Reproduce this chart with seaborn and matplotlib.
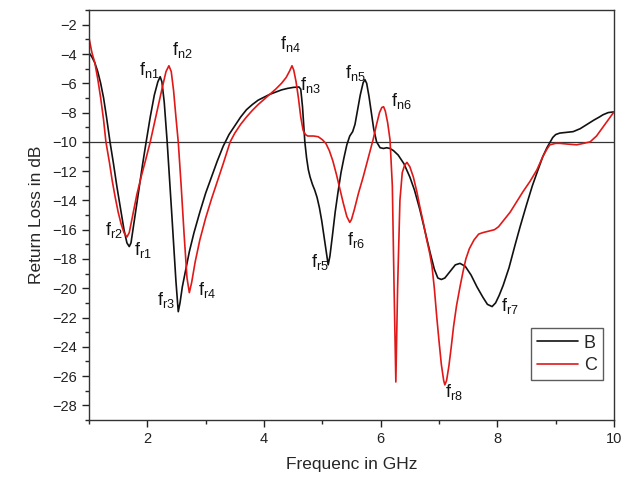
import numpy as np
import pandas as pd
import matplotlib
matplotlib.use("Agg")
import matplotlib.pyplot as plt
import seaborn as sns
from matplotlib.ticker import MultipleLocator

# curve B (black)
freq_b = [1.00, 1.05, 1.10, 1.15, 1.20, 1.25, 1.30, 1.36, 1.42, 1.48, 1.55, 1.60,
          1.65, 1.69, 1.72, 1.78, 1.85, 1.92, 1.98, 2.05, 2.12, 2.18, 2.22, 2.25,
          2.29, 2.34, 2.42, 2.49, 2.53, 2.56, 2.60, 2.65, 2.72, 2.80, 2.90, 3.00,
          3.10, 3.20, 3.30, 3.40, 3.50, 3.60, 3.70, 3.80, 3.90, 4.00, 4.10, 4.20,
          4.30, 4.40, 4.50, 4.60, 4.63, 4.66, 4.70, 4.73, 4.76, 4.79, 4.83, 4.87,
          4.91, 4.95, 4.99, 5.03, 5.07, 5.10, 5.13, 5.17, 5.22, 5.27, 5.32, 5.37,
          5.42, 5.47, 5.52, 5.56, 5.60, 5.65, 5.70, 5.73, 5.76, 5.80, 5.84, 5.88,
          5.93, 5.99, 6.05, 6.10, 6.16, 6.22, 6.30, 6.40, 6.50, 6.58, 6.67, 6.76,
          6.85, 6.92, 6.98, 7.04, 7.10, 7.20, 7.28, 7.36, 7.45, 7.55, 7.65, 7.75,
          7.83, 7.91, 7.97, 8.03, 8.10, 8.20, 8.30, 8.39, 8.50, 8.60, 8.68, 8.78,
          8.85, 8.90, 8.95, 9.00, 9.07, 9.18, 9.30, 9.42, 9.54, 9.66, 9.75, 9.81,
          9.90, 10.00]
rl_b = [-3.9, -4.2, -4.6, -5.2, -6.0, -7.0, -8.3, -10.0, -11.5, -13.1, -14.8, -16.0,
        -16.9, -17.15, -16.9, -15.3, -13.4, -11.5, -10.0, -8.3, -6.8, -5.9, -5.55, -5.9,
        -7.3, -10.0, -15.0, -19.5, -21.6, -21.0, -19.9, -18.9, -17.5, -16.2, -14.8, -13.5,
        -12.4, -11.3, -10.3, -9.5, -8.9, -8.3, -7.8, -7.45, -7.15, -6.95, -6.75, -6.6,
        -6.45, -6.35, -6.28, -6.25, -6.4, -7.6, -10.0, -11.1, -11.9, -12.4, -12.9, -13.3,
        -13.8, -14.5, -15.4, -16.5, -17.6, -18.4, -17.8, -16.5, -14.8, -13.4, -12.1, -11.1,
        -10.2, -9.6, -9.3, -8.8, -7.9, -6.8, -5.95, -5.75, -6.0, -6.9, -8.0, -9.1,
        -10.0, -10.4, -10.45, -10.4, -10.45, -10.6, -10.9, -11.5, -12.4, -13.3, -14.6, -16.1,
        -17.6, -18.7, -19.3, -19.4, -19.3, -18.8, -18.4, -18.3, -18.5, -19.1, -19.9, -20.6,
        -21.1, -21.25, -21.0, -20.5, -19.8, -18.6, -17.1, -15.8, -14.3, -13.0, -12.1, -11.0,
        -10.4, -10.05, -9.7, -9.5, -9.4, -9.35, -9.3, -9.1, -8.8, -8.5, -8.3, -8.15,
        -8.0, -7.95]

# curve C (red)
freq_c = [1.00, 1.05, 1.10, 1.15, 1.20, 1.25, 1.29, 1.35, 1.40, 1.45, 1.50, 1.55,
          1.60, 1.65, 1.69, 1.75, 1.82, 1.90, 1.98, 2.05, 2.15, 2.25, 2.32, 2.37,
          2.41, 2.45, 2.49, 2.53, 2.58, 2.63, 2.68, 2.72, 2.76, 2.82, 2.90, 3.00,
          3.10, 3.20, 3.30, 3.42, 3.50, 3.60, 3.70, 3.80, 3.90, 4.00, 4.10, 4.20,
          4.30, 4.38, 4.44, 4.48, 4.51, 4.55, 4.59, 4.63, 4.67, 4.71, 4.75, 4.85,
          4.93, 5.00, 5.06, 5.12, 5.18, 5.24, 5.30, 5.36, 5.42, 5.47, 5.50, 5.55,
          5.62, 5.70, 5.78, 5.87, 5.93, 5.98, 6.02, 6.05, 6.08, 6.12, 6.16, 6.20,
          6.23, 6.26, 6.29, 6.33, 6.37, 6.41, 6.45, 6.50, 6.56, 6.62, 6.67, 6.73,
          6.79, 6.84, 6.88, 6.92, 6.96, 7.00, 7.04, 7.08, 7.10, 7.13, 7.17, 7.21,
          7.25, 7.30, 7.36, 7.41, 7.46, 7.52, 7.60, 7.68, 7.75, 7.85, 7.95, 8.02,
          8.10, 8.22, 8.33, 8.44, 8.56, 8.68, 8.78, 8.85, 8.90, 9.00, 9.07, 9.20,
          9.36, 9.48, 9.59, 9.70, 9.81, 9.90, 10.00]
rl_c = [-2.9, -3.9, -4.6, -5.7, -7.0, -8.5, -10.0, -11.4, -12.7, -13.8, -14.8, -15.6,
        -16.2, -16.5, -16.2, -15.0, -13.6, -12.3, -11.1, -10.0, -8.2, -6.4, -5.2, -4.8,
        -5.2, -6.5, -8.3, -10.0, -13.0, -16.3, -19.3, -20.3, -19.6, -18.2, -16.7, -15.2,
        -13.9, -12.7, -11.5, -10.0, -9.4, -8.8, -8.3, -7.85, -7.45, -7.1, -6.75, -6.4,
        -6.0, -5.6, -5.15, -4.8, -5.1, -5.9, -7.0, -8.3, -9.2, -9.5, -9.6, -9.6,
        -9.65, -9.85, -10.1, -10.6, -11.3, -12.2, -13.2, -14.2, -15.1, -15.5, -15.3, -14.6,
        -13.5, -12.4, -11.2, -9.85, -8.8, -8.0, -7.65, -7.6, -7.9, -8.7, -9.85, -13.0,
        -20.0, -26.4, -20.0, -14.0, -12.1, -11.6, -11.4, -11.7, -12.4, -13.4, -14.4, -15.5,
        -16.7, -17.6, -18.5, -20.0, -21.9, -23.6, -25.2, -26.3, -26.6, -26.3, -25.3, -24.0,
        -22.6, -21.2, -19.9, -18.9, -18.0, -17.3, -16.7, -16.3, -16.2, -16.1, -16.0, -15.8,
        -15.4, -14.8, -14.1, -13.4, -12.7, -11.9, -11.0, -10.5, -10.2, -10.1, -10.1, -10.15,
        -10.2, -10.1, -10.0, -9.6, -9.0, -8.5, -7.95]

# peak / dip labels
label_text = ["n1", "n2", "n3", "n4", "n5", "n6",
              "r1", "r2", "r3", "r4", "r5", "r6", "r7", "r8"]
label_x = [1.86, 2.42, 4.61, 4.28, 5.39, 6.18,
           1.77, 1.28, 2.17, 2.87, 4.81, 5.42, 8.06, 7.10]
label_y = [-5.1, -3.7, -6.1, -3.3, -5.3, -7.2,
           -17.4, -16.0, -20.8, -20.1, -18.2, -16.7, -21.2, -27.1]

df = pd.concat([
    pd.DataFrame({"Freq": freq_b, "RL": rl_b, "Sample": "B"}),
    pd.DataFrame({"Freq": freq_c, "RL": rl_c, "Sample": "C"}),
])

sns.set_style("ticks")
plt.rcParams["font.family"] = ["Liberation Sans", "DejaVu Sans"]
plt.rcParams["mathtext.default"] = "regular"

fig = plt.figure(figsize=(6.33, 4.82), dpi=100)
ax = fig.add_axes([0.1406, 0.1286, 0.8294, 0.8504])

sns.lineplot(data=df, x="Freq", y="RL", hue="Sample", estimator=None, sort=False,
             palette={"B": "#111111", "C": "#e01818"}, linewidth=1.2, ax=ax)

ax.axhline(-10, color="#333333", linewidth=0.9, zorder=0)

for t, x, y in zip(label_text, label_x, label_y):
    ax.text(x, y, "$f_{%s}$" % t, fontsize=13, ha="left", va="center", color="#111111")

ax.set_xlim(1, 10)
ax.set_ylim(-29, -1)
ax.xaxis.set_major_locator(MultipleLocator(2))
ax.xaxis.set_minor_locator(MultipleLocator(1))
ax.yaxis.set_minor_locator(MultipleLocator(1))
ax.set_yticks(np.arange(-28, -1, 2))
ax.tick_params(which="major", direction="out", length=5, width=1, labelsize=10.5, colors="#222222")
ax.tick_params(which="minor", direction="out", length=3, width=1)
for sp in ax.spines.values():
    sp.set_linewidth(1.0)
    sp.set_color("#333333")

ax.set_xlabel("Frequenc in GHz", fontsize=12.5, labelpad=8)
ax.set_ylabel("Return Loss in dB", fontsize=12.5, labelpad=6)

leg = ax.legend(loc="upper right", bbox_to_anchor=(0.979, 0.224), borderaxespad=0,
                fontsize=13, frameon=True, fancybox=False, handlelength=2.3,
                handletextpad=0.3, borderpad=0.35, labelspacing=0.3,
                edgecolor="#333333", title=None)
leg.get_frame().set_linewidth(1.0)

fig.savefig("out.png", dpi=100)
